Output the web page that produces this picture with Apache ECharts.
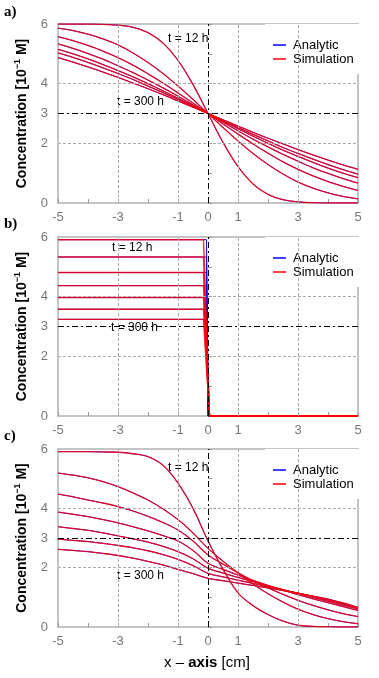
<!DOCTYPE html>
<html>
<head>
<meta charset="utf-8">
<script src="https://cdn.jsdelivr.net/npm/echarts@6/dist/echarts.min.js"></script>
<style>
  html, body { margin: 0; padding: 0; background: #fff; }
  #chart { width: 379px; height: 678px; }
</style>
</head>
<body>
<div id="chart"></div>
<script>
// x positions shared by panels a) and c)
const xs = [-5, -4.5, -4, -3.5, -3, -2.5, -2, -1.5, -1, -0.5, 0, 0.5, 1, 1.5, 2, 2.5, 3, 3.5, 4, 4.5, 5]

// panel a) curves, t = 12 h ... t = 300 h
const a1 = [6.00, 6.00, 6.00, 5.99, 5.96, 5.89, 5.71, 5.36, 4.78, 3.97, 3.00, 2.03, 1.22, 0.64, 0.29, 0.11, 0.04, 0.01, 0.00, 0.00, 0.00]
const a2 = [5.86, 5.78, 5.66, 5.50, 5.30, 5.03, 4.71, 4.34, 3.92, 3.47, 3.00, 2.53, 2.08, 1.66, 1.29, 0.97, 0.70, 0.50, 0.34, 0.22, 0.14]
const a3 = [5.58, 5.44, 5.28, 5.09, 4.87, 4.62, 4.33, 4.02, 3.69, 3.35, 3.00, 2.65, 2.31, 1.98, 1.67, 1.38, 1.13, 0.91, 0.72, 0.56, 0.42]
const a4 = [5.33, 5.18, 5.01, 4.82, 4.60, 4.37, 4.12, 3.86, 3.58, 3.29, 3.00, 2.71, 2.42, 2.14, 1.88, 1.63, 1.40, 1.18, 0.99, 0.82, 0.67]
const a5 = [5.15, 5.00, 4.83, 4.64, 4.44, 4.23, 4.00, 3.76, 3.51, 3.26, 3.00, 2.74, 2.49, 2.24, 2.00, 1.77, 1.56, 1.36, 1.17, 1.00, 0.85]
const a6 = [5.03, 4.88, 4.71, 4.53, 4.34, 4.14, 3.92, 3.70, 3.47, 3.24, 3.00, 2.76, 2.53, 2.30, 2.08, 1.86, 1.66, 1.47, 1.29, 1.12, 0.97]
const a7 = [4.87, 4.72, 4.56, 4.39, 4.21, 4.02, 3.83, 3.63, 3.42, 3.21, 3.00, 2.79, 2.58, 2.37, 2.17, 1.98, 1.79, 1.61, 1.44, 1.28, 1.13]

// panel b) plateau levels and the x where they drop to zero
const bLevels = [5.91, 5.33, 4.81, 4.37, 3.97, 3.58, 3.24]
const bAnalyticX = [-5, -0.05, 0.01, 5]
const bSimX = [-5, -0.15, 0.05, 5]

// panel c) curves
const c1 = [5.91, 5.91, 5.91, 5.90, 5.89, 5.84, 5.74, 5.45, 4.85, 4.00, 2.90, 1.95, 1.15, 0.72, 0.42, 0.20, 0.06, 0.02, 0.01, 0.00, 0.00]
const c2 = [5.19, 5.12, 5.03, 4.90, 4.73, 4.52, 4.28, 3.98, 3.62, 3.17, 2.65, 2.22, 1.82, 1.45, 1.12, 0.84, 0.60, 0.42, 0.28, 0.18, 0.11]
const c3 = [4.48, 4.39, 4.28, 4.18, 4.06, 3.91, 3.73, 3.52, 3.27, 2.90, 2.43, 2.12, 1.83, 1.56, 1.32, 1.10, 0.90, 0.73, 0.58, 0.45, 0.35]
const c4 = [3.87, 3.80, 3.72, 3.62, 3.51, 3.38, 3.24, 3.08, 2.90, 2.58, 2.15, 1.94, 1.75, 1.57, 1.40, 1.24, 1.09, 0.95, 0.82, 0.69, 0.56]
const c5 = [3.38, 3.32, 3.26, 3.17, 3.07, 2.97, 2.86, 2.72, 2.54, 2.30, 1.98, 1.82, 1.67, 1.53, 1.39, 1.26, 1.13, 1.00, 0.87, 0.74, 0.61]
const c6 = [2.96, 2.92, 2.88, 2.82, 2.75, 2.67, 2.57, 2.44, 2.28, 2.07, 1.81, 1.69, 1.58, 1.47, 1.36, 1.25, 1.14, 1.03, 0.91, 0.78, 0.64]
const c7 = [2.62, 2.58, 2.54, 2.48, 2.41, 2.32, 2.21, 2.09, 1.94, 1.80, 1.64, 1.56, 1.48, 1.40, 1.32, 1.23, 1.14, 1.04, 0.94, 0.81, 0.66]

// tick labels
const xTickLabels = [-5, -3, -1, 0, 1, 3, 5]
const yTickLabels = [0, 2, 3, 4, 6]
const xGridAt = [-3, -1, 1, 3]
const yGridAt = [2, 4]

const BLUE = '#0000ff'
const RED = 'rgba(255,0,0,0.82)'
const gridTops = [24, 237, 449]
const gridHeights = [179, 179, 178]

const chart = echarts.init(document.getElementById('chart'))

function pairs(xv, yv) {
  return xv.map((x, i) => [x, yv[i]])
}

function guideLines() {
  const gray = { color: '#aaa', width: 1, type: [3, 2] }
  const dashDot = { color: '#000', width: 1, type: [6, 3, 2, 3] }
  return {
    silent: true,
    symbol: 'none',
    label: { show: false },
    animation: false,
    data: [
      ...xGridAt.map(v => ({ xAxis: v, lineStyle: gray })),
      ...yGridAt.map(v => ({ yAxis: v, lineStyle: gray })),
      { xAxis: 0, lineStyle: dashDot },
      { yAxis: 3, lineStyle: dashDot },
    ],
  }
}

function curveSeries(gi, name, data, color, width, smooth) {
  return {
    name: name,
    type: 'line',
    xAxisIndex: gi,
    yAxisIndex: gi,
    data: data,
    symbol: 'none',
    smooth: smooth,
    lineStyle: { color: color, width: width },
    itemStyle: { color: name === 'Analytic' ? BLUE : '#ff0000' },
    z: name === 'Analytic' ? 3 : 4,
  }
}

const series = []
const panelA = [a1, a2, a3, a4, a5, a6, a7]
const panelC = [c1, c2, c3, c4, c5, c6, c7]

// guide lines carried by an empty series on each panel
for (let gi = 0; gi < 3; gi++) {
  series.push({ type: 'line', xAxisIndex: gi, yAxisIndex: gi, data: [], markLine: guideLines(), z: 2 })
}
panelA.forEach(ys => series.push(curveSeries(0, 'Analytic', pairs(xs, ys), BLUE, 1, 0.35)))
panelA.forEach(ys => series.push(curveSeries(0, 'Simulation', pairs(xs, ys), RED, 1.3, 0.35)))
bLevels.forEach(l => series.push(curveSeries(1, 'Analytic', pairs(bAnalyticX, [l, l, 0, 0]), BLUE, 1, false)))
bLevels.forEach(l => series.push(curveSeries(1, 'Simulation', pairs(bSimX, [l, l, 0, 0]), RED, 1.4, false)))
panelC.forEach(ys => series.push(curveSeries(2, 'Analytic', pairs(xs, ys), BLUE, 1, 0.35)))
panelC.forEach(ys => series.push(curveSeries(2, 'Simulation', pairs(xs, ys), RED, 1.3, 0.35)))

const texts = []
const panelNames = ['a)', 'b)', 'c)']
const panelNameY = [13, 225, 437]
panelNames.forEach((t, i) => {
  texts.push({
    type: 'text', left: 4, top: panelNameY[i] - 8,
    style: { text: t, font: 'bold 15px "Liberation Serif", "DejaVu Serif", serif', fill: '#000' },
  })
})
// t = 12 h / t = 300 h labels
const t12Pos = [[168, 39], [112, 248], [168, 468]]
const t300Pos = [[117, 102], [111, 328], [117, 576]]
t12Pos.forEach(p => texts.push({
  type: 'text', x: p[0], y: p[1],
  style: { text: 't = 12 h', font: '12px "Liberation Sans", Arial, sans-serif', fill: '#000', verticalAlign: 'middle' },
}))
t300Pos.forEach(p => texts.push({
  type: 'text', x: p[0], y: p[1],
  style: { text: 't = 300 h', font: '12px "Liberation Sans", Arial, sans-serif', fill: '#000', verticalAlign: 'middle' },
}))
// y-axis titles
gridTops.forEach((top, i) => {
  texts.push({
    type: 'text', x: 22, y: top + gridHeights[i] / 2, rotation: Math.PI / 2,
    style: {
      text: '{b|Concentration [10}{s|−1}{b| M]}',
      align: 'center', verticalAlign: 'middle',
      rich: {
        b: { fontFamily: '"Liberation Sans", Arial, sans-serif', fontWeight: 'bold', fontSize: 14, fill: '#000', lineHeight: 18 },
        s: { fontFamily: '"Liberation Sans", Arial, sans-serif', fontWeight: 'bold', fontSize: 9, fill: '#000', verticalAlign: 'top', lineHeight: 18 },
      },
    },
  })
})
// x-axis title
texts.push({
  type: 'text', x: 207, y: 663,
  style: {
    text: '{n|x – }{b|axis}{n| [cm]}',
    align: 'center', verticalAlign: 'middle',
    rich: {
      n: { fontFamily: '"Liberation Sans", Arial, sans-serif', fontSize: 15, fill: '#000' },
      b: { fontFamily: '"Liberation Sans", Arial, sans-serif', fontWeight: 'bold', fontSize: 15, fill: '#000' },
    },
  },
})

const option = {
  animation: false,
  textStyle: { fontFamily: '"Liberation Sans", Arial, sans-serif' },
  grid: gridTops.map((top, i) => ({
    left: 58, top: top, width: 300, height: gridHeights[i],
    show: true, borderColor: '#c4c4c4', borderWidth: 2, backgroundColor: 'transparent',
  })),
  xAxis: gridTops.map((t, i) => ({
    gridIndex: i, type: 'value', min: -5, max: 5, interval: 1,
    axisLine: { show: false },
    axisTick: { show: true, inside: true, length: 4, lineStyle: { color: '#999' } },
    splitLine: { show: false },
    axisLabel: {
      color: '#777', fontSize: 13, margin: 8,
      formatter: v => (xTickLabels.includes(v) ? String(v) : ''),
    },
  })),
  yAxis: gridTops.map((t, i) => ({
    gridIndex: i, type: 'value', min: 0, max: 6, interval: 1,
    axisLine: { show: false },
    axisTick: { show: true, inside: true, length: 4, lineStyle: { color: '#999' } },
    splitLine: { show: false },
    axisLabel: {
      color: '#777', fontSize: 13, margin: 10,
      formatter: v => (yTickLabels.includes(v) ? String(v) : ''),
    },
  })),
  legend: gridTops.map(top => ({
    left: 265, top: top, orient: 'vertical',
    data: ['Analytic', 'Simulation'],
    icon: 'rect',
    itemWidth: 13, itemHeight: 1.5, itemGap: 0,
    padding: [14, 8, 8, 8],
    backgroundColor: '#fff',
    selectedMode: false,
    textStyle: { color: '#000', fontSize: 13, lineHeight: 14, padding: [0, 0, 0, 2] },
  })),
  graphic: texts,
  series: series,
}

chart.setOption(option)
</script>
</body>
</html>
